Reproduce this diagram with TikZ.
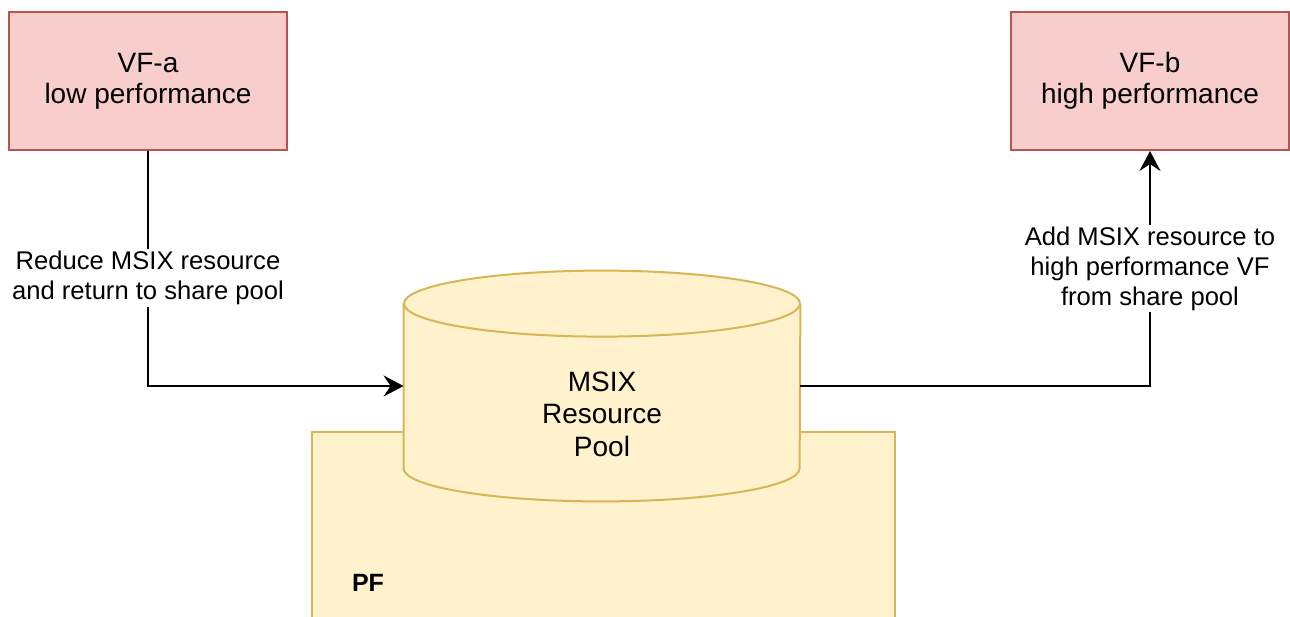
\documentclass[tikz,border=0pt]{standalone}
\usepackage{fontspec}
\setmainfont{Liberation Sans}
\usetikzlibrary{arrows.meta,positioning}
\definecolor{vffill}{HTML}{F8CECC}
\definecolor{vfdraw}{HTML}{B85450}
\definecolor{pffill}{HTML}{FFF2CC}
\definecolor{pfdraw}{HTML}{D6B656}
\tikzset{
    vf/.style = {
        draw = vfdraw,
        fill = vffill,
        line width = 1pt,
        minimum width = 139pt,
        minimum height = 69pt,
        align = center,
        font = \fontsize{14}{15.5}\selectfont,
        },
    pf box/.style = {
        draw = pfdraw,
        fill = pffill,
        line width = 1pt,
        minimum width = 291.5pt,
        minimum height = 110pt,
        },
    flow/.style = {
        draw = black,
        line width = 1pt,
        -{Stealth[length=10pt,width=10.5pt,inset=3.5pt]},
        },
    flow label/.style = {
        fill = white,
        align = center,
        inner sep = 1pt,
        font = \fontsize{12.8}{15}\selectfont,
        },
}

\begin{document}
\begin{tikzpicture}[x=0.5pt, y=-0.5pt]
            \useasboundingbox (0,0) rectangle (1290,616);

            \node[vf] (vfa) at (148,81) {VF-a\\low performance};
            \node[vf] (vfb) at (1150,81) {VF-b\\high performance};
            \node[pf box, anchor=north west] (pf) at (311,431) {};
            \node[font=\fontsize{12.5}{15}\selectfont\bfseries] (pfname) at (368,583) {PF};

            % share pool drawn as a cylinder
            \node[minimum width=198pt, minimum height=82pt, inner sep=0pt] (pool) at (602,386) {};
            \fill[pffill] (pool.north west) -- (pool.south west) arc (180:0:198 and 33)
                -- (pool.north east) arc (0:180:198 and 33) -- cycle;
            \draw[pfdraw, line width=1pt] (pool.north west) -- (pool.south west)
                arc (180:0:198 and 33) -- (pool.north east);
            \draw[pfdraw, fill=pffill, line width=1pt] (pool.north) ellipse (198 and 33);
            \node[align=center, font=\fontsize{14}{16.3}\selectfont] (pooltext) at (602,414) {MSIX\\Resource\\Pool};

            \path[flow] (vfa.south) |- (pool.west)
                node[flow label, pos=0.27] (lbla) {Reduce MSIX resource\\and return to share pool};
            \path[flow] (pool.east) -| (vfb.south)
                node[flow label, pos=0.75] (lblb) {Add MSIX resource to\\high performance VF\\from share pool};
        \end{tikzpicture}
\end{document}
